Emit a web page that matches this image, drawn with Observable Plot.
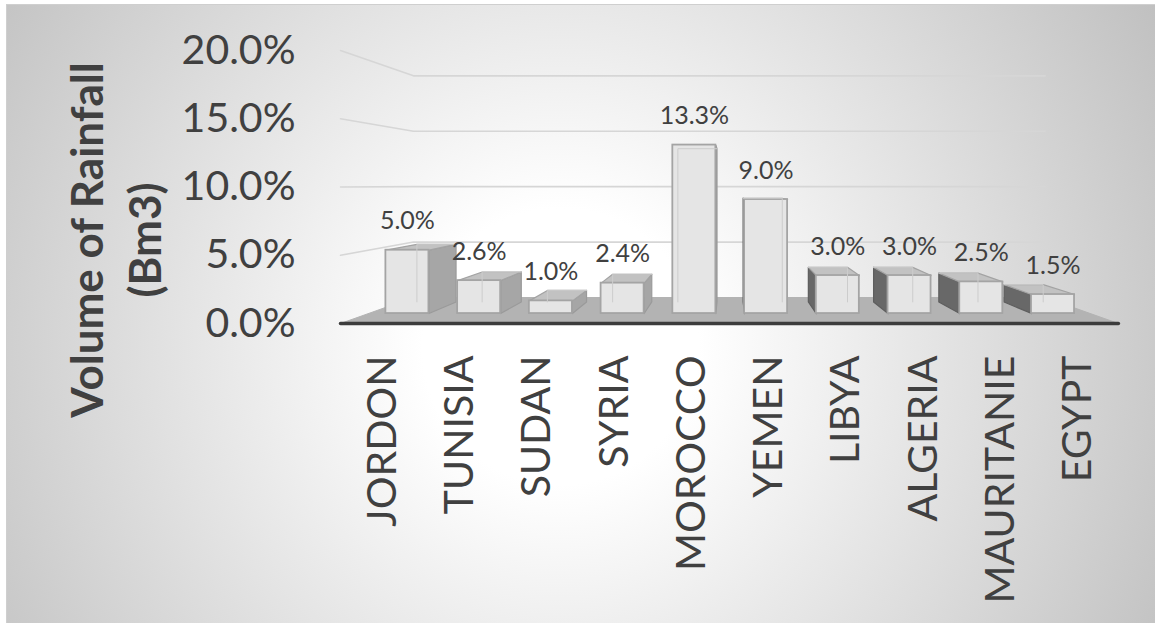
<!DOCTYPE html>
<html><head><meta charset="utf-8">
<script src="https://cdn.jsdelivr.net/npm/d3@7"></script>
<script src="https://cdn.jsdelivr.net/npm/@observablehq/plot@0.6"></script>
<style>
html,body{margin:0;padding:0;}
body{width:1155px;height:623px;overflow:hidden;background:#fff;}
#chart{position:relative;width:1155px;height:623px;}
#bg{position:absolute;left:6px;top:4px;width:1155px;height:623px;border:1px solid #cfcfcf;box-sizing:border-box;
 background:radial-gradient(circle farthest-corner at 48% 55%, #ffffff 0%, #ffffff 20%, #c0c0c0 100%);}
#plot{position:absolute;left:0;top:0;}
</style></head>
<body>
<div id="chart"><div id="bg"></div><div id="plot"></div></div>
<script>
// ---- data ----
const countries = ["JORDON","TUNISIA","SUDAN","SYRIA","MOROCCO","YEMEN","LIBYA","ALGERIA","MAURITANIE","EGYPT"];
const values = [5.0, 2.6, 1.0, 2.4, 13.3, 9.0, 3.0, 3.0, 2.5, 1.5];
const yTicks = [0, 5, 10, 15, 20];
const yTitle = "Volume of Rainfall\n(Bm3)";

// ---- 3D perspective (front plane data units) ----
const VP = [4.476, 10.13];              // vanishing point
const S_WALL = 0.812, S_FRONT = 0.928, S_BACK = 0.844, HALF = 0.3;
const U_LEFT = -0.543, U_RIGHT = 9.52;
const P = (u, v, s) => ({x: VP[0] + (u - VP[0]) * s, y: VP[1] + (v - VP[1]) * s});
const poly = (id, pts) => [...pts, pts[0]].map(p => ({...p, id}));

const floor = poly("floor", [P(U_LEFT,0,1), P(U_RIGHT,0,1), P(U_RIGHT,0,S_WALL), P(U_LEFT,0,S_WALL)]);
const grid = yTicks.filter(t => t > 0).flatMap(t =>
  [P(U_LEFT,t,1), P(U_LEFT,t,S_WALL), P(U_RIGHT,t,S_WALL)].map(p => ({...p, id: t})));
const frontEdge = [P(U_LEFT,0,1), P(U_RIGHT,0,1)];

const bars = values.map((v, i) => ({i, v, name: countries[i]}));
const sideL = [], sideR = [], tops = [], backEdges = [];
bars.forEach(({i, v}) => {
  const leftOfVP = i < VP[0];
  const su = leftOfVP ? i + HALF : i - HALF;
  const face = poly(i, [P(su,0,S_FRONT), P(su,v,S_FRONT), P(su,v,S_BACK), P(su,0,S_BACK)]);
  (leftOfVP ? sideL : sideR).push(...face);
  if (v < VP[1]) tops.push(...poly(i, [P(i-HALF,v,S_FRONT), P(i+HALF,v,S_FRONT), P(i+HALF,v,S_BACK), P(i-HALF,v,S_BACK)]));
  const bu = leftOfVP ? i - HALF : i + HALF;
  backEdges.push(...[P(bu,0,S_BACK), P(bu,v,S_BACK), P(leftOfVP ? i + HALF : i - HALF, v, S_BACK)].map(p => ({...p, id: i})));
});
const fronts = bars.map(({i, v}) => {
  const a = P(i-HALF,0,S_FRONT), b = P(i+HALF,v,S_FRONT);
  return {x1: a.x, x2: b.x, y1: a.y, y2: b.y};
});
const labels = bars.map(({i, v}) => ({...P(i, v, S_FRONT), t: v.toFixed(1) + "%"}));

// scale frame: u -> 382 + 77.3u px ; v -> 323 - 13.65v px
const W = 1155, H = 623, ML = 300, MB = 278;
const xDom = [(ML - 382) / 77.3, (W - 382) / 77.3];
const yDom = [(323 - (H - MB)) / 13.65, 323 / 13.65];

const chart = Plot.plot({
  width: W, height: H,
  marginLeft: ML, marginRight: 0, marginTop: 0, marginBottom: MB,
  x: {type: "linear", domain: xDom},
  y: {type: "linear", domain: yDom},
  style: {background: "transparent", fontFamily: "Lato, 'Open Sans', sans-serif", fontSize: "41px", color: "#404040", overflow: "visible"},
  marks: [
    Plot.line(floor, {x: "x", y: "y", z: "id", fill: "#b3b3b3", stroke: "#b3b3b3", strokeWidth: 1}),
    Plot.line(grid, {x: "x", y: "y", z: "id", stroke: "#d6d6d6", strokeWidth: 1.6}),
    Plot.line(frontEdge, {x: "x", y: "y", stroke: "#3c3c3c", strokeWidth: 3.5}),
    Plot.line(sideL, {x: "x", y: "y", z: "id", fill: "#a6a6a6", stroke: "#9a9a9a", strokeWidth: 1.2}),
    Plot.line(sideR, {x: "x", y: "y", z: "id", fill: "#686868", stroke: "#5e5e5e", strokeWidth: 1.2}),
    Plot.line(tops, {x: "x", y: "y", z: "id", fill: "#c2c2c2", stroke: "#a3a3a3", strokeWidth: 1.2}),
    Plot.rect(fronts, {x1: "x1", x2: "x2", y1: "y1", y2: "y2", fill: "#e5e5e5", stroke: "#a4a4a4", strokeWidth: 1.8}),
    Plot.line(backEdges, {x: "x", y: "y", z: "id", stroke: "#cccccc", strokeWidth: 1}),
    Plot.text(labels, {x: "x", y: "y", text: "t", dy: -29, fontSize: 25, fill: "#404040"}),
    Plot.axisX({ticks: d3.range(countries.length), tickFormat: i => countries[i], tickRotate: -90, tickSize: 0, tickPadding: 10, label: null, fontSize: 41}),
    Plot.axisY({ticks: yTicks, tickFormat: d => d.toFixed(1) + "%", tickSize: 0, tickPadding: 5, label: null, fontSize: 41}),
    Plot.text([yTitle], {frameAnchor: "left", text: d => d, rotate: -90, textAnchor: "middle", lineAnchor: "middle", dx: -187, dy: 67, fontSize: 44, fontWeight: "bold", lineHeight: 1.32, fill: "#404040"})
  ]
});
document.getElementById("plot").appendChild(chart);
</script>
</body></html>
